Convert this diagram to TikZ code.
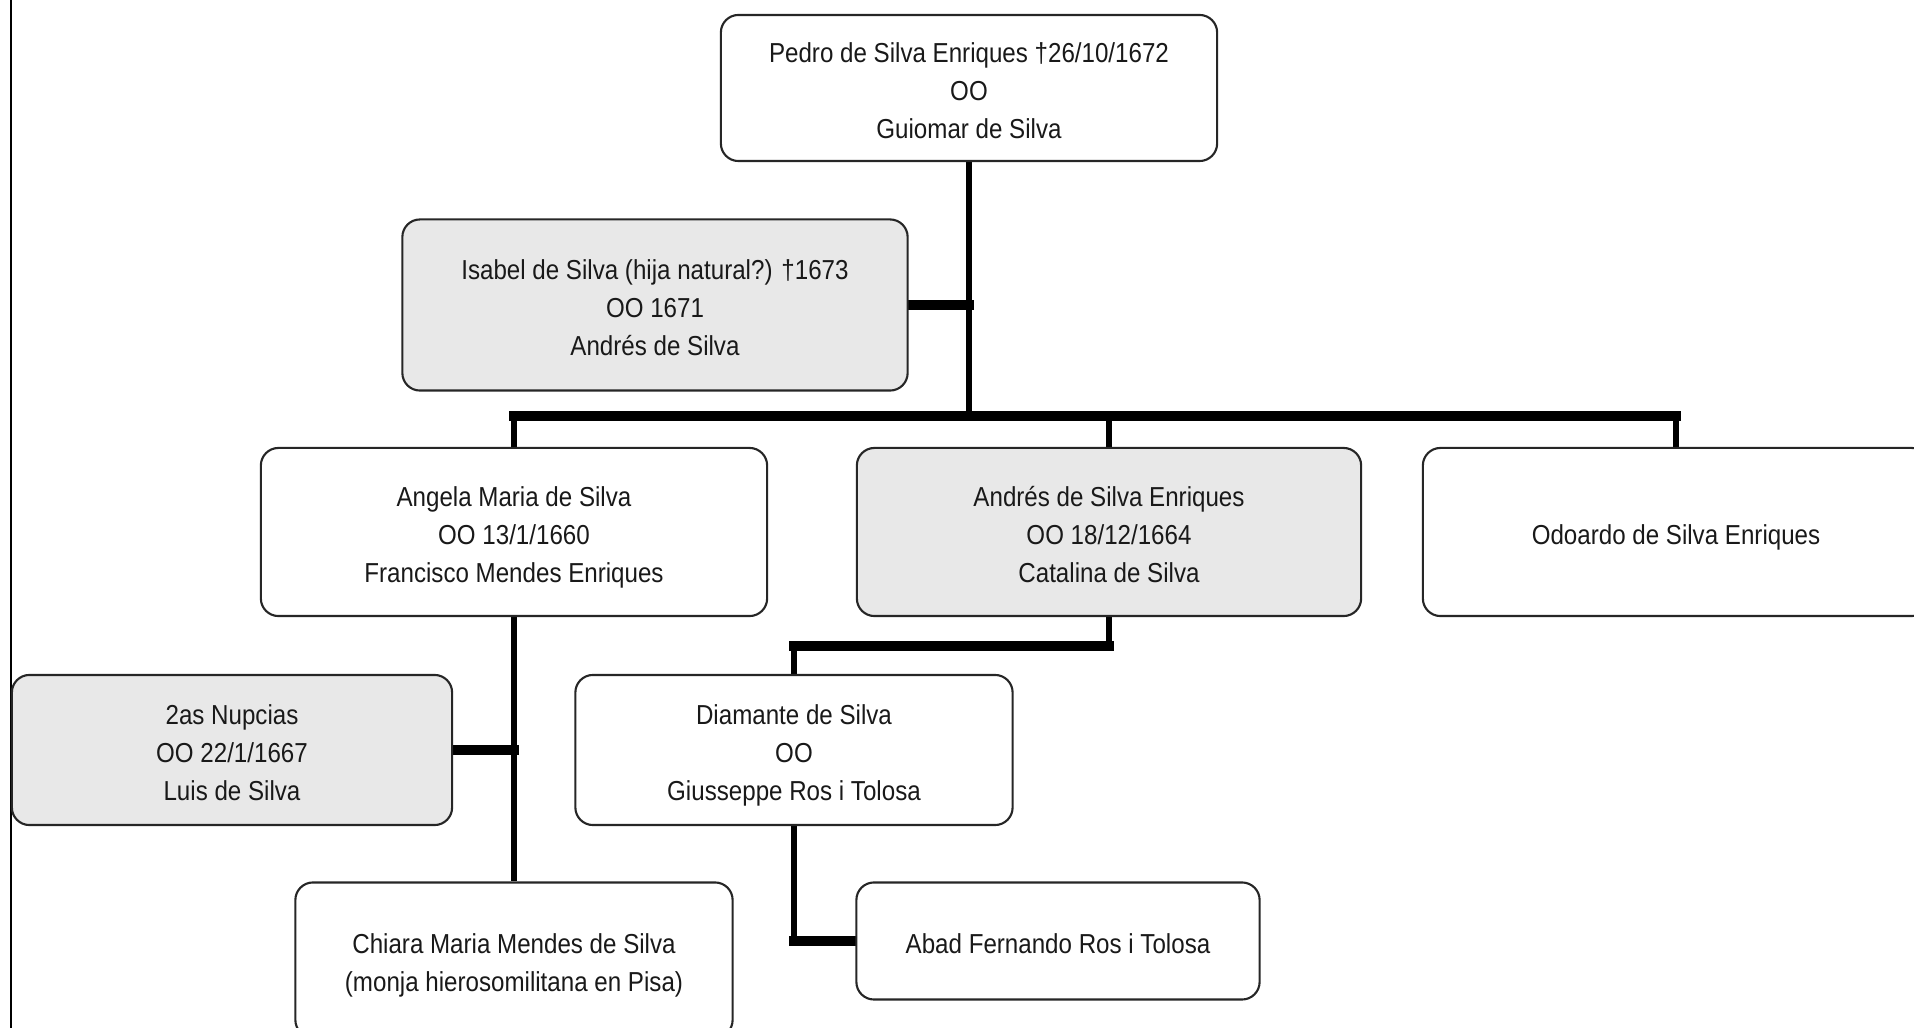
\documentclass[tikz,border=0pt]{standalone}
\usepackage{fontspec}
\setmainfont[FakeStretch=0.88]{Liberation Sans}
\usepackage{xcolor}
\usetikzlibrary{positioning,backgrounds}
\definecolor{boxgray}{RGB}{232,232,232}
\newcommand{\boxfont}{\fontsize{7.8pt}{10.8pt}\selectfont}
\newcommand{\boxstrut}{\rule[-0.18\baselineskip]{0pt}{\baselineskip}}
\newcommand{\boxtext}[1]{\boxstrut#1\boxstrut}

\begin{document}
\begin{tikzpicture}[x=0.01cm,y=-0.01cm]
  % Define overall style for the chart
  \tikzset{
    person/.style={
      draw=black!85,
      rounded corners=5pt,
      fill=white,
      line width=0.6pt,
      align=center,
      inner sep=0pt,
      font=\boxfont,
      text=black!90
    },
    spouse/.style={
      person,
      fill=boxgray
    },
    vline/.style={
      draw=black,
      line width=1.9pt
    },
    hline/.style={
      draw=black,
      line width=2.7pt,
      line cap=rect
    }
  }
  \useasboundingbox (0,0) rectangle (1914,1028);
  \clip (0,0) rectangle (1914,1028);

  % Frame line on the left
  \draw[black, line width=0.6pt] (11,0) -- (11,1028);

  % Create the boxes
  \node[person, minimum width=4.96cm, minimum height=1.46cm] (pedro) at (969,88)
    {\boxtext{Pedro de Silva Enriques †26/10/1672\\OO\\Guiomar de Silva}};
  \node[spouse, minimum width=5.05cm, minimum height=1.71cm] (isabel) at (655,305)
    {\boxtext{Isabel de Silva (hija natural?) †1673\\OO 1671\\Andrés de Silva}};
  \node[person, minimum width=5.06cm, minimum height=1.68cm] (angela) at (514,532)
    {\boxtext{Angela Maria de Silva\\OO 13/1/1660\\Francisco Mendes Enriques}};
  \node[spouse, minimum width=5.04cm, minimum height=1.68cm] (andres) at (1109,532)
    {\boxtext{Andrés de Silva Enriques\\OO 18/12/1664\\Catalina de Silva}};
  \node[person, minimum width=5.06cm, minimum height=1.68cm] (odoardo) at (1676,532)
    {\boxtext{Odoardo de Silva Enriques}};
  \node[spouse, minimum width=4.40cm, minimum height=1.50cm] (nupcias) at (232,750)
    {\boxtext{2as Nupcias\\OO 22/1/1667\\Luis de Silva}};
  \node[person, minimum width=4.37cm, minimum height=1.50cm] (diamante) at (794,750)
    {\boxtext{Diamante de Silva\\OO\\Giusseppe Ros i Tolosa}};
  \node[person, minimum width=4.37cm, minimum height=1.55cm] (chiara) at (514,960)
    {\boxtext{Chiara Maria Mendes de Silva\\(monja hierosomilitana en Pisa)}};
  \node[person, minimum width=4.03cm, minimum height=1.17cm] (abad) at (1058,941)
    {\boxtext{Abad Fernando Ros i Tolosa}};

  % Draw the connectors behind the boxes
  \coordinate (bus) at (0,416);
  \coordinate (sub) at (0,646);
  \begin{scope}[on background layer]
    \draw[vline] (pedro.south) -- (pedro.south |- bus);
    \draw[hline] (isabel.east) -- (isabel.east -| pedro.south);
    \draw[hline] (angela.north |- bus) -- (odoardo.north |- bus);
    \foreach \n in {angela,andres,odoardo}
      \draw[vline] (\n.north |- bus) -- (\n.north);
    \draw[vline] (angela.south) -- (chiara.north);
    \draw[hline] (nupcias.east) -- (nupcias.east -| angela.south);
    \draw[vline] (andres.south) -- (andres.south |- sub);
    \draw[hline] (andres.south |- sub) -- (diamante.north |- sub);
    \draw[vline] (diamante.north |- sub) -- (diamante.north);
    \draw[vline] (diamante.south) -- (diamante.south |- abad.west);
    \draw[hline] (diamante.south |- abad.west) -- (abad.west);
  \end{scope}
\end{tikzpicture}
\end{document}
